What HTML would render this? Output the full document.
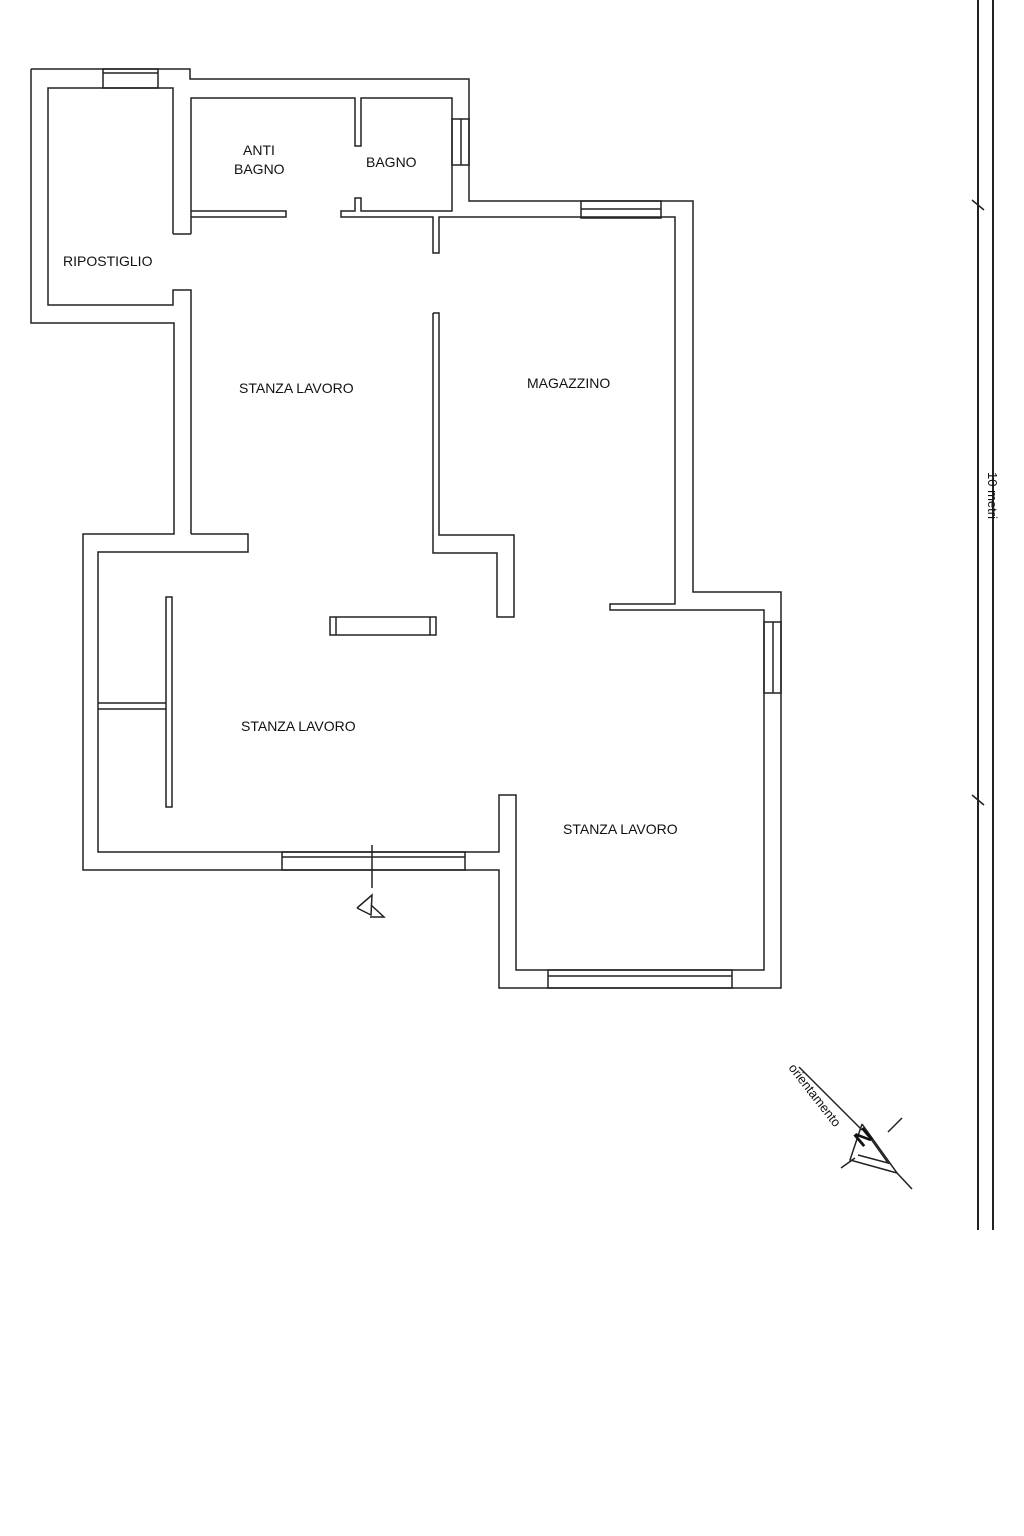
<!DOCTYPE html>
<html><head><meta charset="utf-8"><style>
html,body{margin:0;padding:0;background:#fff}
svg{display:block}
text{font-family:"Liberation Sans",Arial,sans-serif;fill:#111}
</style></head><body>
<svg width="1024" height="1536" viewBox="0 0 1024 1536" xmlns="http://www.w3.org/2000/svg">
<g fill="none" stroke="#222" stroke-width="1.5">
<!-- outer outline -->
<polyline points="31,69 190,69 190,79 469,79 469,201 693,201 693,592 781,592 781,988 499,988 499,870 83,870 83,534 174,534 174,323 31,323 31,69"/>
<!-- ripostiglio inner -->
<polyline points="173,234 173,88 48,88 48,305 173,305 173,290 191,290 191,534"/>
<polyline points="191,234 173,234"/>
<!-- antibagno -->
<polyline points="191,234 191,98 355,98 355,146 361,146 361,98 452,98 452,211 361,211 361,198 355,198 355,211 341,211 341,217 433,217 433,253 439,253 439,217 675,217 675,604 610,604 610,610 764,610 764,970 516,970 516,795 499,795 499,852 98,852 98,552 248,552 248,534 191,534"/>
<polyline points="191,211 286,211 286,217 191,217"/>
<!-- magazzino left wall -->
<polyline points="433,313 439,313 439,535 514,535 514,617 497,617 497,553 433,553 433,313"/>
<!-- windows -->
<rect x="103" y="69" width="55" height="19"/><line x1="103" y1="73" x2="158" y2="73"/>
<rect x="452" y="119" width="17" height="46"/><line x1="461" y1="119" x2="461" y2="165"/>
<rect x="581" y="201" width="80" height="17"/><line x1="581" y1="209" x2="661" y2="209"/>
<rect x="764" y="622" width="17" height="71"/><line x1="773" y1="622" x2="773" y2="693"/>
<rect x="548" y="970" width="184" height="18"/><line x1="548" y1="976" x2="732" y2="976"/>
<rect x="282" y="852" width="183" height="18"/><line x1="282" y1="857" x2="465" y2="857"/>
<!-- partitions lower-left -->
<rect x="166" y="597" width="6" height="210"/>
<polyline points="98,703 166,703"/><polyline points="98,709 166,709"/>
<!-- object -->
<rect x="330" y="617" width="106" height="18"/>
<line x1="336" y1="617" x2="336" y2="635"/><line x1="430" y1="617" x2="430" y2="635"/>
<!-- section mark -->
<line x1="372" y1="845" x2="372" y2="888"/>
<polyline points="357,908 372,895 371,915 357,908"/>
<polyline points="371,905 384,917 370,917"/>
<!-- scale -->
<line x1="978" y1="0" x2="978" y2="1230" stroke-width="2"/>
<line x1="993" y1="0" x2="993" y2="1230" stroke-width="2"/>
<line x1="972" y1="200" x2="984" y2="210"/>
<line x1="972" y1="795" x2="984" y2="805"/>
<!-- north arrow -->
<line x1="799" y1="1067" x2="862" y2="1130"/>
<polyline points="862,1124 897,1173 850,1160 862,1124"/>
<polyline points="866,1132 888,1163 858,1155"/>
<line x1="902" y1="1118" x2="888" y2="1132"/>
<line x1="841" y1="1168" x2="855" y2="1158"/>
<line x1="897" y1="1173" x2="912" y2="1189"/>
</g>
<g font-size="14">
<text x="63" y="266">RIPOSTIGLIO</text>
<text x="243" y="155">ANTI</text>
<text x="234" y="174">BAGNO</text>
<text x="366" y="167">BAGNO</text>
<text x="239" y="393">STANZA LAVORO</text>
<text x="527" y="388">MAGAZZINO</text>
<text x="241" y="731">STANZA LAVORO</text>
<text x="563" y="834">STANZA LAVORO</text>
<text transform="translate(788,1068) rotate(52)" font-size="13">orientamento</text>
<text transform="translate(862,1148) rotate(-40)" font-size="22" font-weight="bold">N</text>
<text transform="translate(988,472) rotate(90)" font-size="13">10 metri</text>
</g>
</svg>
</body></html>
